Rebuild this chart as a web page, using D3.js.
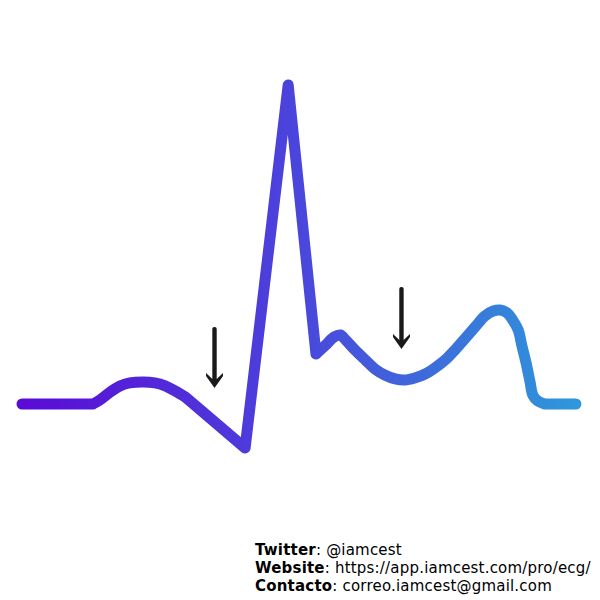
<!DOCTYPE html>
<html>
<head>
<meta charset="utf-8">
<script src="https://cdn.jsdelivr.net/npm/d3@7"></script>
<style>
  html, body { margin: 0; padding: 0; background: #ffffff; }
  svg { display: block; }
</style>
</head>
<body>
<script>
// ECG trace: time (ms) and voltage (mV)
const timeMs = [0, 102, 112, 127, 141, 155, 174, 191, 206, 220, 235, 321, 383, 423, 437, 449, 458, 466, 479, 494, 508, 522, 537, 551, 565, 580, 594, 609, 623, 637, 652, 666, 678, 688, 698, 706, 714, 719, 725, 731, 735, 742, 752, 797];
const voltMv = [0, 0, 0.025, 0.075, 0.113, 0.132, 0.138, 0.132, 0.113, 0.082, 0.044, -0.276, 2.0, 0.313, 0.370, 0.42, 0.433, 0.40, 0.339, 0.276, 0.219, 0.182, 0.157, 0.150, 0.163, 0.188, 0.226, 0.276, 0.339, 0.408, 0.483, 0.552, 0.583, 0.589, 0.571, 0.527, 0.464, 0.370, 0.263, 0.138, 0.056, 0.019, 0, 0];
// Sharp corners (Q, R, S) split the trace into smooth and straight pieces: [start, end, smooth?]
const segments = [[0, 1, false], [1, 10, true], [10, 13, false], [13, 42, true], [42, 43, false]];

// Arrow markers: time position, top voltage, tip voltage
const arrowTime = [277, 546];
const arrowTop = [0.483, 0.734];
const arrowTip = [0.10, 0.345];

// Credits
const creditLabels = ["Twitter", "Website", "Contacto"];
const creditValues = [": @iamcest", ": https://app.iamcest.com/pro/ecg/", ": correo.iamcest@gmail.com"];

const gradientColors = ["#5a0bd6", "#4a46dc", "#2e98da"];

const W = 600, H = 600;
const svg = d3.select("body").append("svg").attr("width", W).attr("height", H);

const x = d3.scaleLinear().domain([0, 800]).range([22, 578]);
const y = d3.scaleLinear().domain([0, 2]).range([404, 85]);

const defs = svg.append("defs");
const grad = defs.append("linearGradient")
  .attr("id", "ecgGrad")
  .attr("gradientUnits", "userSpaceOnUse")
  .attr("x1", x(0)).attr("x2", x(800)).attr("y1", 0).attr("y2", 0);
grad.selectAll("stop").data(gradientColors).join("stop")
  .attr("offset", (d, i) => i / (gradientColors.length - 1))
  .attr("stop-color", d => d);

const pts = timeMs.map((t, i) => [t, voltMv[i]]);
const smooth = d3.line().x(d => x(d[0])).y(d => y(d[1])).curve(d3.curveCatmullRom.alpha(0.5));
const straight = d3.line().x(d => x(d[0])).y(d => y(d[1])).curve(d3.curveLinear);

const dPath = segments.map(([a, b, s]) => (s ? smooth : straight)(pts.slice(a, b + 1))).join("");

svg.append("path")
  .attr("d", dPath)
  .attr("fill", "none")
  .attr("stroke", "url(#ecgGrad)")
  .attr("stroke-width", 11)
  .attr("stroke-linecap", "round")
  .attr("stroke-linejoin", "round");

// Arrows
arrowTime.forEach((t, i) => {
  const ax = x(t), top = y(arrowTop[i]), tip = y(arrowTip[i]);
  const g = svg.append("g").attr("fill", "#1a1a1a");
  g.append("rect")
    .attr("x", ax - 2.2).attr("y", top)
    .attr("width", 4.4).attr("height", tip - top - 6)
    .attr("rx", 2);
  const hw = 8.5, hh = 15, notch = 5;
  g.append("path").attr("d",
    `M${ax},${tip} L${ax - hw},${tip - hh + 3} L${ax - hw},${tip - hh} L${ax},${tip - notch - 2} L${ax + hw},${tip - hh} L${ax + hw},${tip - hh + 3} Z`);
});

// Credits text
const txt = svg.append("g")
  .attr("font-family", "DejaVu Sans, Verdana, sans-serif")
  .attr("font-size", 15)
  .attr("letter-spacing", 0.2)
  .attr("fill", "#000");
creditLabels.forEach((lab, i) => {
  const t = txt.append("text").attr("x", 255).attr("y", 555 + i * 18);
  t.append("tspan").attr("font-weight", "bold").text(lab);
  t.append("tspan").text(creditValues[i]);
});
</script>
</body>
</html>
